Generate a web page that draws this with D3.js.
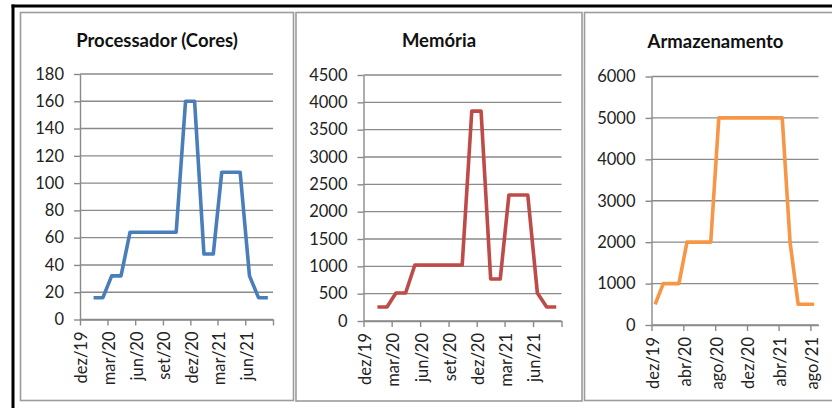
<!DOCTYPE html>
<html>
<head>
<meta charset="utf-8">
<script src="https://cdn.jsdelivr.net/npm/d3@7"></script>
<style>
  body { margin: 0; background: #fff; }
  svg { display: block; font-family: Lato, 'Open Sans', sans-serif; }
</style>
</head>
<body>
<svg class="charts" width="832" height="408"></svg>
<script>
const months = ['2019-12', '2020-01', '2020-02', '2020-03', '2020-04', '2020-05', '2020-06',
                '2020-07', '2020-08', '2020-09', '2020-10', '2020-11', '2020-12', '2021-01',
                '2021-02', '2021-03', '2021-04', '2021-05', '2021-06', '2021-07', '2021-08'];

const processador = [null, 16, 16, 32, 32, 64, 64, 64, 64, 64, 64, 160, 160, 48, 48, 108, 108, 108, 32, 16, 16];
const memoria = [null, 256, 256, 512, 512, 1024, 1024, 1024, 1024, 1024, 1024, 3840, 3840, 768, 768, 2304, 2304, 2304, 512, 256, 256];
const armazenamento = [500, 1000, 1000, 1000, 2000, 2000, 2000, 2000, 5000, 5000, 5000, 5000, 5000, 5000, 5000, 5000, 5000, 2000, 500, 500, 500];

const titles = ['Processador (Cores)', 'Memória', 'Armazenamento'];
const yTicksProc = [0, 20, 40, 60, 80, 100, 120, 140, 160, 180];
const yTicksMem = [0, 500, 1000, 1500, 2000, 2500, 3000, 3500, 4000, 4500];
const yTicksArm = [0, 1000, 2000, 3000, 4000, 5000, 6000];
const monthNames = ['jan', 'fev', 'mar', 'abr', 'mai', 'jun', 'jul', 'ago', 'set', 'out', 'nov', 'dez'];

const parseMonth = d3.timeParse('%Y-%m');
const axisStart = new Date(2019, 11, 1),
      axisEnd = new Date(2021, 8, 1);

const panels = [
  {title: titles[0], values: processador, yTicks: yTicksProc, step: 3, color: '#4a7ebb',
   box: [20.5, 12.5, 273, 388], plot: [80, 74, 273, 319.5], titleY: 47},
  {title: titles[1], values: memoria, yTicks: yTicksMem, step: 3, color: '#be4b48',
   box: [296, 12.5, 286, 388.5], plot: [363.5, 75, 561.5, 321], titleY: 47},
  {title: titles[2], values: armazenamento, yTicks: yTicksArm, step: 4, color: '#f79646',
   box: [584.5, 12.5, 262, 388], plot: [651.5, 76.5, 818.5, 325], titleY: 48}
];

const svg = d3.select('.charts');

svg.append('rect')
   .attr('width', 832)
   .attr('height', 408)
   .attr('fill', '#fff');

panels.forEach(p => {
  const [bx, by, bw, bh] = p.box;
  const [x0, y0, x1, y1] = p.plot;

  const g = svg.append('g');

  g.append('rect')
   .attr('x', bx)
   .attr('y', by)
   .attr('width', bw)
   .attr('height', bh)
   .attr('fill', '#fff')
   .attr('stroke', '#9c9c9c')
   .attr('stroke-width', 1.6);

  g.append('text')
   .attr('x', bx + bw / 2)
   .attr('y', p.titleY)
   .attr('text-anchor', 'middle')
   .attr('font-size', 18.5)
   .attr('font-weight', 'bold')
   .attr('fill', '#111')
   .text(p.title);

  const x = d3.scaleTime()
              .domain([axisStart, axisEnd])
              .range([x0, x1]);

  const y = d3.scaleLinear()
              .domain([0, d3.max(p.yTicks)])
              .range([y1, y0]);

  g.selectAll('line.grid')
   .data(p.yTicks)
   .enter()
   .append('line')
   .attr('class', 'grid')
   .attr('x1', x0)
   .attr('x2', x1)
   .attr('y1', d => y(d))
   .attr('y2', d => y(d))
   .attr('stroke', '#8a8a8a')
   .attr('stroke-width', 1.4);

  const yAxis = d3.axisLeft(y)
                  .tickValues(p.yTicks)
                  .tickFormat(d3.format('d'))
                  .tickSize(6)
                  .tickSizeOuter(0)
                  .tickPadding(10);

  const xTicks = d3.timeMonth.range(axisStart, d3.timeDay.offset(axisEnd, 1), p.step);

  const xAxis = d3.axisBottom(x)
                  .tickValues(xTicks)
                  .tickSize(6)
                  .tickSizeOuter(0)
                  .tickFormat(d => +d === +axisEnd ? '' :
                    monthNames[d.getMonth()] + '/' + String(d.getFullYear()).slice(2));

  const ya = g.append('g')
              .attr('transform', 'translate(' + x0 + ',0)')
              .call(yAxis);

  const xa = g.append('g')
              .attr('transform', 'translate(0,' + y1 + ')')
              .call(xAxis);

  [ya, xa].forEach(a => {
    a.selectAll('path, line')
     .attr('stroke', '#8a8a8a')
     .attr('stroke-width', 1.4);
    a.selectAll('text')
     .attr('font-size', 16.5)
     .attr('font-family', 'Lato, sans-serif')
     .attr('fill', '#222');
  });

  xa.selectAll('text')
    .attr('y', 0)
    .attr('x', -12)
    .attr('dy', '0.42em')
    .attr('transform', 'rotate(-90)')
    .style('text-anchor', 'end');

  const points = months.map((m, i) => ({date: d3.timeDay.offset(parseMonth(m), 14), value: p.values[i]}));

  const line = d3.line()
                 .defined(d => d.value != null)
                 .x(d => x(d.date))
                 .y(d => y(d.value));

  g.append('path')
   .datum(points)
   .attr('d', line)
   .attr('fill', 'none')
   .attr('stroke', p.color)
   .attr('stroke-width', 3.6)
   .attr('stroke-linejoin', 'round');
});

// moldura preta
svg.append('line')
   .attr('x1', 11.5).attr('y1', 6)
   .attr('x2', 832).attr('y2', 6)
   .attr('stroke', '#000')
   .attr('stroke-width', 3);

svg.append('line')
   .attr('x1', 13).attr('y1', 4.5)
   .attr('x2', 13).attr('y2', 408)
   .attr('stroke', '#000')
   .attr('stroke-width', 3);
</script>
</body>
</html>
